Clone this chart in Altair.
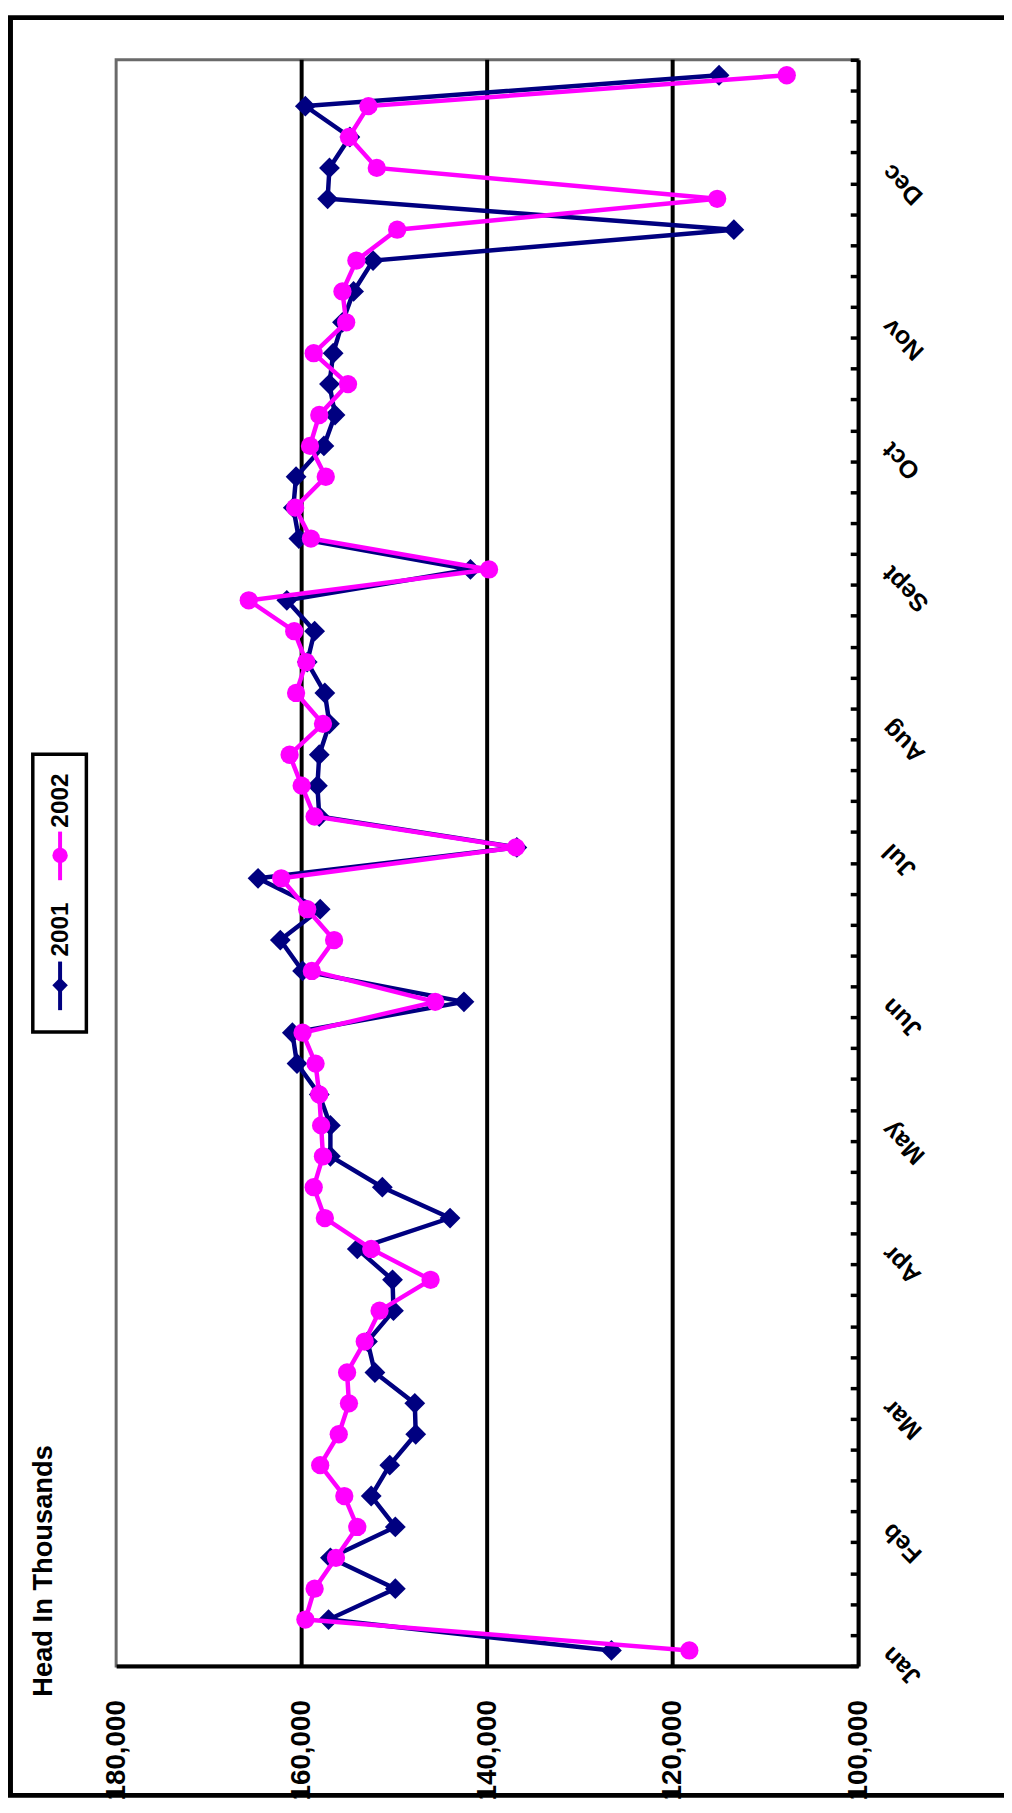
import json
import altair as alt
import pandas as pd

# ---------------- data ----------------
weeks = list(range(1, 53))
head_2001 = [126600, 157100, 149900, 156900, 149900, 152500, 150500, 147700, 147800, 152100,
             152900, 150100, 150200, 154000, 144000, 151300, 156900, 156900, 158100, 160500,
             161000, 142500, 159900, 162300, 158000, 164700, 136800, 158100, 158300, 158100,
             157000, 157500, 159400, 158600, 161600, 141800, 160300, 160900, 160600, 157600,
             156400, 157000, 156600, 155600, 154400, 152300, 113400, 157200, 157000, 154800,
             159600, 115000]
head_2002 = [118200, 159600, 158600, 156300, 154000, 155400, 158000, 156000, 154900, 155100,
             153200, 151600, 146100, 152500, 157500, 158700, 157700, 157900, 158100, 158500,
             159900, 145600, 158900, 156500, 159400, 162200, 136900, 158600, 160000, 161300,
             157700, 160600, 159500, 160800, 165700, 139800, 159000, 160700, 157400, 159100,
             158100, 155000, 158700, 155200, 155600, 154100, 149700, 115200, 151900, 154900,
             152800, 107700]
series_names = ["2001", "2002"]
series_colors = ["#000080", "#FF00FF"]
month_labels = ["Jan", "Feb", "Mar", "Apr", "May", "Jun", "Jul", "Aug", "Sept", "Oct", "Nov", "Dec"]
month_weeks = [1, 5, 9, 14, 18, 22, 27, 31, 36, 40, 44, 49]
value_ticks = [100000, 120000, 140000, 160000, 180000]
grid_values = [120000, 140000, 160000]
title_text = "Head In Thousands"

# ---------------- layout ----------------
W, H = 748, 1619
FONT = "Liberation Sans"
NAVY, MAGENTA = series_colors

df = pd.DataFrame({
    "week": weeks * 2,
    "head": head_2001 + head_2002,
    "series": [series_names[0]] * len(weeks) + [series_names[1]] * len(weeks),
})
grid_df = pd.DataFrame({"v": grid_values})
one = pd.DataFrame({"label": [title_text]})

x_scale = alt.Scale(domain=[value_ticks[0], value_ticks[-1]], reverse=True, nice=False, zero=False)
y_scale = alt.Scale(domain=[weeks[0] - 0.5, weeks[-1] + 0.5], nice=False, zero=False)

x_axis = alt.Axis(orient="bottom", values=value_ticks, format=",d", labelAngle=270,
                  labelAlign="right", labelBaseline="middle", labelPadding=34,
                  labelFlush=False, labelOverlap=False, ticks=False, domain=True,
                  domainColor="black", domainWidth=4, grid=False, title=None,
                  labelFont=FONT, labelFontSize=28, labelFontWeight="bold",
                  labelColor="black", zindex=1)

label_expr = f"{json.dumps(month_labels)}[indexof({json.dumps(month_weeks)}, datum.value)]"
y_label_axis = alt.Axis(orient="right", values=month_weeks, labelExpr=label_expr,
                        ticks=False, domain=True, domainColor="black", domainWidth=4,
                        labelAngle=225, labelAlign="right", labelBaseline="middle",
                        labelPadding=28, labelOverlap=False, labelFlush=False,
                        labelFont=FONT, labelFontSize=25, labelFontWeight="bold",
                        labelColor="black", grid=False, title=None, zindex=1)

boundaries = [w - 0.5 for w in weeks] + [weeks[-1] + 0.5]
y_tick_axis = alt.Axis(orient="left", offset=-W, values=boundaries, labels=False,
                       domain=False, ticks=True, tickSize=8, tickWidth=3.5,
                       tickColor="black", grid=False, title=None, zindex=1)


def xenc(field="head"):
    return alt.X(f"{field}:Q", scale=x_scale, axis=x_axis)


def yenc(axis):
    if axis is None:
        return alt.Y("week:Q", scale=y_scale, axis=None)
    return alt.Y("week:Q", scale=y_scale, axis=axis)


grid = alt.Chart(grid_df).mark_rule(color="black", strokeWidth=4).encode(x=xenc("v"))

base = alt.Chart(df)
line1 = base.transform_filter(alt.datum.series == series_names[0]).mark_line(
    color=NAVY, strokeWidth=4.5).encode(x=xenc(), y=yenc(y_label_axis), order="week:Q")
pts1 = base.transform_filter(alt.datum.series == series_names[0]).mark_point(
    shape="diamond", filled=True, size=440, color=NAVY, opacity=1).encode(
    x=xenc(), y=yenc(y_tick_axis))
line2 = base.transform_filter(alt.datum.series == series_names[1]).mark_line(
    color=MAGENTA, strokeWidth=4.5).encode(x=xenc(), y=yenc(None), order="week:Q")
pts2 = base.transform_filter(alt.datum.series == series_names[1]).mark_point(
    shape="circle", filled=True, size=340, color=MAGENTA, opacity=1).encode(
    x=xenc(), y=yenc(None))

# title text (rotated)
title = alt.Chart(one).mark_text(angle=270, align="left", baseline="alphabetic",
                                 font=FONT, fontSize=27.5, fontWeight="bold",
                                 color="black").encode(
    x=alt.value(-65), y=alt.value(1650), text="label:N")

# legend (rotated, drawn by hand)
leg_box = alt.Chart(one).mark_rect(fill="white", stroke="black", strokeWidth=3.5).encode(
    x=alt.value(-84), x2=alt.value(-30), y=alt.value(700), y2=alt.value(980))
leg_layers = [leg_box]
leg_pos = [(909, 958, 933, 904, "diamond", 245), (778, 827, 802, 774, "circle", 240)]
for i, name in enumerate(series_names):
    y0, y1, ys, yt, shp, sz = leg_pos[i]
    sub = pd.DataFrame({"label": [name]})
    leg_layers.append(alt.Chart(sub).mark_rule(color=series_colors[i], strokeWidth=4).encode(
        x=alt.value(-56.5), y=alt.value(y0), y2=alt.value(y1)))
    leg_layers.append(alt.Chart(sub).mark_point(shape=shp, filled=True, size=sz,
                                                color=series_colors[i], opacity=1).encode(
        x=alt.value(-56.5), y=alt.value(ys)))
    leg_layers.append(alt.Chart(sub).mark_text(angle=270, align="left", baseline="middle",
                                               font=FONT, fontSize=24.5, fontWeight="bold",
                                               color="black").encode(
        x=alt.value(-56), y=alt.value(yt), text="label:N"))

frame = alt.Chart(one).mark_rect(fill="white", fillOpacity=0, stroke="black", strokeWidth=5).encode(
    x=alt.value(-106.5), x2=alt.value(920), y=alt.value(-42.5), y2=alt.value(1749.5))

chart = alt.layer(grid, line1, pts1, line2, pts2, title, *leg_layers, frame).resolve_axis(
    y="independent").properties(
    width=W, height=H,
    padding={"left": 109, "top": 45, "right": 147, "bottom": 133},
    autosize=alt.AutoSizeParams(type="none"),
    background="white",
).configure_view(stroke="#6a6a6a", strokeWidth=3)

chart.save("out.html", embed_options={"renderer": "svg", "actions": False})
